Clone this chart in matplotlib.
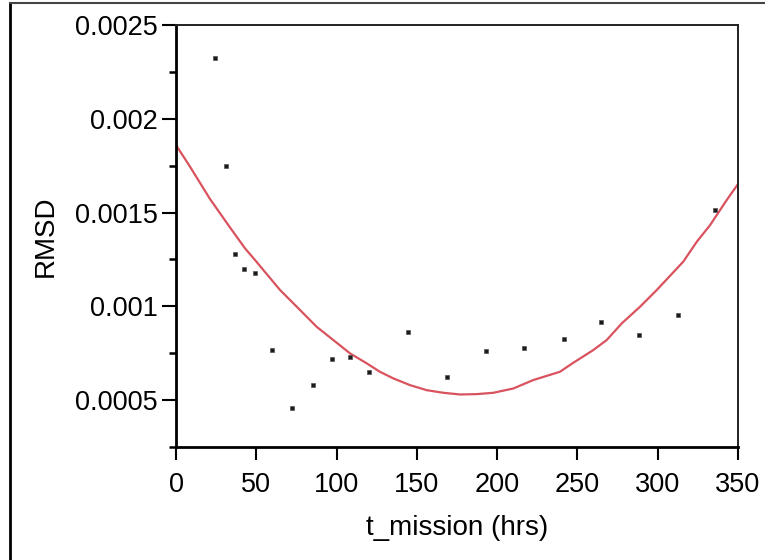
import numpy as np
import matplotlib
matplotlib.use("Agg")
import matplotlib.pyplot as plt
from matplotlib.lines import Line2D
from matplotlib.ticker import FixedLocator, MultipleLocator

plt.rcParams['font.family'] = ['Liberation Sans', 'DejaVu Sans']

# measured points
t_mission = [24.3, 31.1, 36.7, 42.3, 49.2, 59.8, 72.2, 85.3, 97.2, 108.4,
             120.2, 144.5, 168.8, 193.1, 216.7, 241.6, 264.7, 288.4, 312.6, 335.7]
rmsd = [0.002324, 0.001748, 0.001279, 0.001199, 0.001177, 0.000767, 0.000457,
        0.000580, 0.000719, 0.000729, 0.000649, 0.000863, 0.000623, 0.000761,
        0.000777, 0.000825, 0.000916, 0.000845, 0.000953, 0.001513]

# fitted curve
fit_t = [0, 8.7, 21.2, 32.6, 43.0, 49.2, 64.8, 75.2, 87.6, 98.0, 108.4, 118.8,
         127.0, 135.3, 145.7, 156.1, 166.5, 176.9, 187.3, 197.6, 210.1, 222.5,
         239.1, 247.4, 259.9, 268.2, 277.6, 289.0, 299.4, 315.9, 324.3, 332.6,
         343.0, 350]
fit_rmsd = [0.001860, 0.001745, 0.001572, 0.001433, 0.001309, 0.001247,
            0.001087, 0.000998, 0.000891, 0.000820, 0.000749, 0.000696,
            0.000651, 0.000616, 0.000580, 0.000553, 0.000539, 0.000530,
            0.000532, 0.000539, 0.000562, 0.000607, 0.000651, 0.000699,
            0.000767, 0.000820, 0.000909, 0.000998, 0.001087, 0.001238,
            0.001344, 0.001433, 0.001567, 0.001652]

yticks = [0.0005, 0.001, 0.0015, 0.002, 0.0025]
ytick_labels = ["0.0005", "0.001", "0.0015", "0.002", "0.0025"]
xticks = [0, 50, 100, 150, 200, 250, 300, 350]

fig = plt.figure(figsize=(7.65, 5.6), dpi=100)
ax = fig.add_axes([176/765, 113/560, 562/765, 422/560])

ax.plot(fit_t, fit_rmsd, color='#d9535f', lw=1.6, zorder=2,
        solid_joinstyle='round')
ax.plot(t_mission, rmsd, ls='none', marker='s', ms=2.6, color='#1a1a1a',
        mec='#555555', mew=0.5, zorder=3)

ax.set_xlim(0, 350)
ax.set_ylim(0.00025, 0.0025)
ax.xaxis.set_major_locator(FixedLocator(xticks))
ax.set_xticks(xticks)
ax.set_xticklabels([str(v) for v in xticks])
ax.set_yticks(yticks)
ax.set_yticklabels(ytick_labels)
ax.yaxis.set_minor_locator(MultipleLocator(0.00025))

ax.tick_params(axis='both', direction='out', labelsize=19.5, width=1.5, colors='black')
ax.tick_params(axis='x', length=9, pad=9)
ax.tick_params(axis='y', which='major', length=10, pad=3)
ax.tick_params(axis='y', which='minor', length=5, width=1.8)

for s in ['left', 'bottom']:
    ax.spines[s].set_linewidth(2.0)
    ax.spines[s].set_color('black')
for s in ['top', 'right']:
    ax.spines[s].set_linewidth(1.4)
    ax.spines[s].set_color('#222222')

ax.set_xlabel("t_mission (hrs)", fontsize=20, labelpad=12)
ax.set_ylabel("RMSD", fontsize=20, labelpad=12)

# outer frame of the original picture
fig.add_artist(Line2D([10/765, 10/765], [0, 1 - 3/560], transform=fig.transFigure,
                      color='black', lw=2.0))
fig.add_artist(Line2D([10/765, 1], [1 - 3/560, 1 - 3/560], transform=fig.transFigure,
                      color='#444444', lw=1.5))

fig.savefig("out.png", dpi=100)
